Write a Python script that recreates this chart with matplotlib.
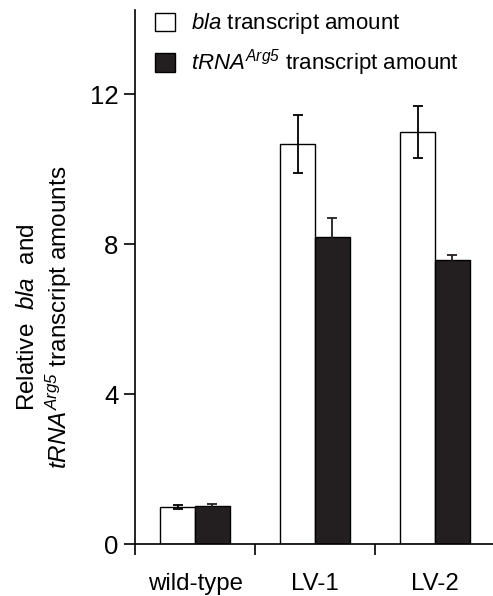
import matplotlib.pyplot as plt
from matplotlib.patches import Patch
import numpy as np

plt.rcParams['font.family'] = ['Liberation Sans', 'DejaVu Sans']
plt.rcParams['mathtext.fontset'] = 'custom'
plt.rcParams['mathtext.rm'] = 'Liberation Sans:italic'
plt.rcParams['mathtext.it'] = 'Liberation Sans:italic'

# datos
grupos = ['wild-type', 'LV-1', 'LV-2']
bla = [1.0, 10.67, 10.99]
bla_err = [0.05, 0.78, 0.70]
trna = [1.01, 8.18, 7.59]
trna_err = [0.05, 0.53, 0.12]

negro = '#231f20'
ancho = 0.29
centros = np.arange(len(grupos)) + 0.5

fig = plt.figure(figsize=(4.93, 5.96), dpi=100)
ax = fig.add_axes([0.274, 0.087, 0.73, 0.896])

ax.bar(centros - ancho / 2, bla, ancho, color='white', edgecolor='black', linewidth=1.0, zorder=2)
ax.bar(centros + ancho / 2, trna, ancho, color=negro, edgecolor='black', linewidth=1.0, zorder=2)
ax.errorbar(centros - ancho / 2, bla, yerr=bla_err, fmt='none', ecolor='black',
            elinewidth=1.3, capsize=3.8, capthick=1.3, zorder=3)
ax.errorbar(centros + ancho / 2, trna, yerr=trna_err, fmt='none', ecolor=negro,
            elinewidth=1.3, capsize=3.8, capthick=1.3, zorder=3)

ax.set_xlim(0, 3)
ax.set_ylim(0, 14.24)
ax.set_yticks([0, 4, 8, 12])
ax.set_xticks([0, 1, 2, 3])
ax.set_xticklabels([])
ax.set_xticks(centros, minor=True)
ax.set_xticklabels(grupos, minor=True)
ax.tick_params(axis='x', which='minor', length=0, pad=21, labelsize=17.3)
ax.tick_params(axis='x', which='major', length=8, width=1.2, direction='out')
ax.tick_params(axis='y', length=8, width=1.2, direction='out', labelsize=18.5, pad=4)

for s in ['top', 'right']:
    ax.spines[s].set_visible(False)
for s in ['left', 'bottom']:
    ax.spines[s].set_linewidth(1.2)

ax.set_ylabel('Relative  $bla$  and\n$tRNA^{Arg5}$ transcript amounts',
              fontsize=17.5, linespacing=1.2)
ax.yaxis.set_label_coords(-0.17, 0.425)

handles = [Patch(facecolor='white', edgecolor='black', linewidth=1.0),
           Patch(facecolor=negro, edgecolor='black', linewidth=1.0)]
etiquetas = ['$bla$ transcript amount', '$tRNA^{Arg5}$ transcript amount']
ax.legend(handles, etiquetas, loc='upper left', bbox_to_anchor=(0.0, 1.035), frameon=False,
          fontsize=16, handlelength=0.9, handleheight=0.9, handletextpad=0.7,
          labelspacing=0.5)

fig.savefig('out.png', dpi=100)
